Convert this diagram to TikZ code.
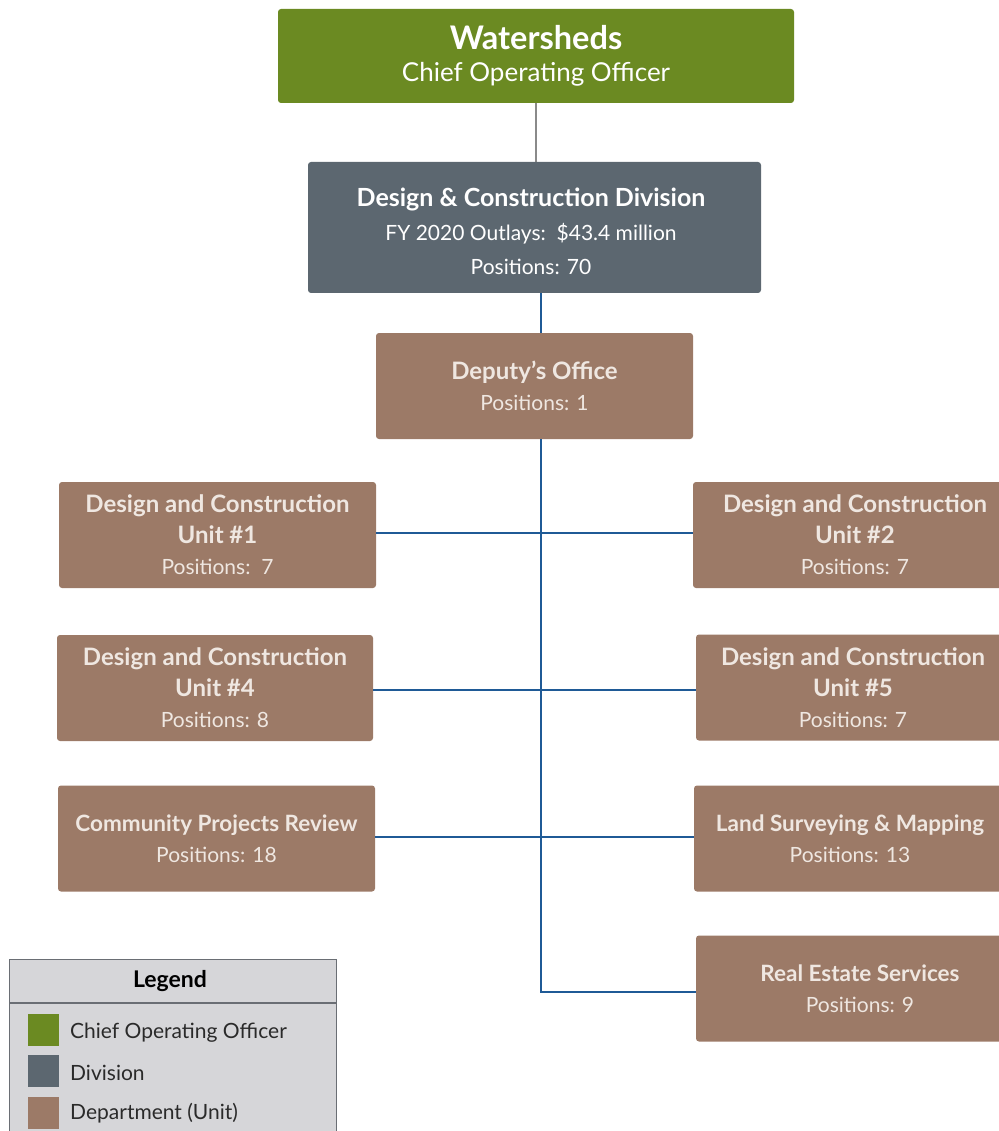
\documentclass[tikz,border=0pt]{standalone}
\usepackage{fontspec}
\setmainfont{Lato}
\definecolor{cgreen}{HTML}{6B8A22}
\definecolor{cslate}{HTML}{5C6770}
\definecolor{cbrown}{HTML}{9C7A67}
\definecolor{ctxt}{HTML}{EFE7E1}
\definecolor{cblue}{HTML}{1F5A96}
\definecolor{cgrayline}{HTML}{8A8A8A}
\definecolor{clegfill}{HTML}{D6D6D9}
\definecolor{clegline}{HTML}{6A6E74}
\definecolor{clegtxt}{HTML}{2A2A2A}
\newcommand{\TT}[1]{{\bfseries\fontsize{24}{31}\selectfont #1}}
\newcommand{\TS}[1]{{\bfseries\fontsize{22.5}{31}\selectfont #1}}
\newcommand{\TD}[1]{{\bfseries\fontsize{25}{34}\selectfont #1}}
\newcommand{\TW}[1]{{\bfseries\fontsize{32.5}{32}\selectfont #1}}
\begin{document}
\begin{tikzpicture}[x=1pt,y=-1pt,
  box/.style={rounded corners=3pt, inner sep=0pt, align=center},
  coo/.style={box, fill=cgreen, text=white, minimum width=516pt, minimum height=94pt, font=\fontsize{26}{32}\selectfont},
  divbox/.style={box, fill=cslate, minimum width=453pt, minimum height=131pt},
  divtext/.style={align=center, inner sep=0pt, text=white, font=\fontsize{21}{34}\selectfont},
  unit/.style={box, fill=cbrown, text=ctxt, minimum width=317pt, minimum height=106pt, font=\fontsize{21}{31}\selectfont},
  conn/.style={cblue, line width=2pt},
  legtxt/.style={anchor=west, inner sep=0pt, text=clegtxt, font=\fontsize{21}{24}\selectfont},
  swatch/.style={inner sep=0pt, minimum width=31pt, minimum height=32pt}
]
\useasboundingbox (0,0) rectangle (998,1131);

\coordinate (sp) at (541,0);

% gray connector first (behind boxes)
\coordinate (cooB) at (536,103);
\coordinate (divT) at (536,162);
\draw[cgrayline, line width=2pt] (cooB) -- (divT);

% boxes
\node[coo] (coo) at (536,56) {\TW{Watersheds}\\Chief Operating Officer};
\node[divbox] (div) at (534.5,227.5) {};
\node[divtext] (divt) at (531,231.5) {\TD{Design \& Construction Division}\\FY 2020 Outlays:\ \ \$43.4 million\\Positions: 70};
\node[unit] (dep) at (534.5,386) {\TT{Deputy’s Office}\\Positions: 1};
\node[unit] (u1) at (217.5,535) {\TT{Design and Construction}\\\TT{Unit \#1}\\Positions:\ \ 7};
\node[unit, minimum width=310pt] (u2) at (848,535) {\TT{\hspace*{14pt}Design and Construction}\\\TT{\hspace*{14pt}Unit \#2}\\\hspace*{14pt}Positions: 7};
\node[unit, minimum width=316pt] (u4) at (215,688) {\TT{Design and Construction}\\\TT{Unit \#4}\\Positions: 8};
\node[unit, minimum width=306pt] (u5) at (849,687.5) {\TT{\hspace*{8pt}Design and Construction}\\\TT{\hspace*{8pt}Unit \#5}\\\hspace*{8pt}Positions: 7};
\node[unit] (cpr) at (216.5,838.5) {\TS{Community Projects Review}\\Positions: 18};
\node[unit, minimum width=308pt] (lsm) at (848,838.5) {\TS{\hspace*{4pt}Land Surveying \& Mapping}\\\hspace*{4pt}Positions: 13};
\node[unit, minimum width=306pt] (res) at (849,988.5) {\TS{\hspace*{22pt}Real Estate Services}\\\hspace*{22pt}Positions: 9};

% blue connectors
\coordinate (resin) at ([yshift=-3.5pt]res.west);
\coordinate (u1out) at ([yshift=2pt]u1.east);
\coordinate (u4out) at ([yshift=-2pt]u4.east);
\coordinate (cprout) at ([yshift=1.5pt]cpr.east);
\draw[conn] (div.south -| sp) -- (dep.north -| sp);
\draw[conn] (dep.south -| sp) -- (sp |- resin) -- (resin);
\draw[conn] (u1out) -- (u1out -| u2.west);
\draw[conn] (u4out) -- (u4out -| u5.west);
\draw[conn] (cprout) -- (cprout -| lsm.west);

% legend
\node[draw=clegline, fill=clegfill, line width=1.2pt, inner sep=0pt, anchor=north west, minimum width=327pt, minimum height=190pt] (leg) at (9,959) {};
\coordinate (hl) at (9,1003);
\draw[clegline, line width=1.2pt] (hl) -- (hl -| leg.east);
\node[inner sep=0pt, text=black, font=\bfseries\fontsize{23}{24}\selectfont] (legt) at (170,981) {Legend};
\node[swatch, fill=cgreen, anchor=north west] (s1) at (28,1014) {};
\node[swatch, fill=cslate, anchor=north west] (s2) at (28,1055) {};
\node[swatch, fill=cbrown, anchor=north west] (s3) at (28,1097) {};
\node[legtxt] (l1) at (70,1033) {Chief Operating Officer};
\node[legtxt] (l2) at (70,1073) {Division};
\node[legtxt] (l3) at (70,1113) {Department (Unit)};
\end{tikzpicture}
\end{document}
